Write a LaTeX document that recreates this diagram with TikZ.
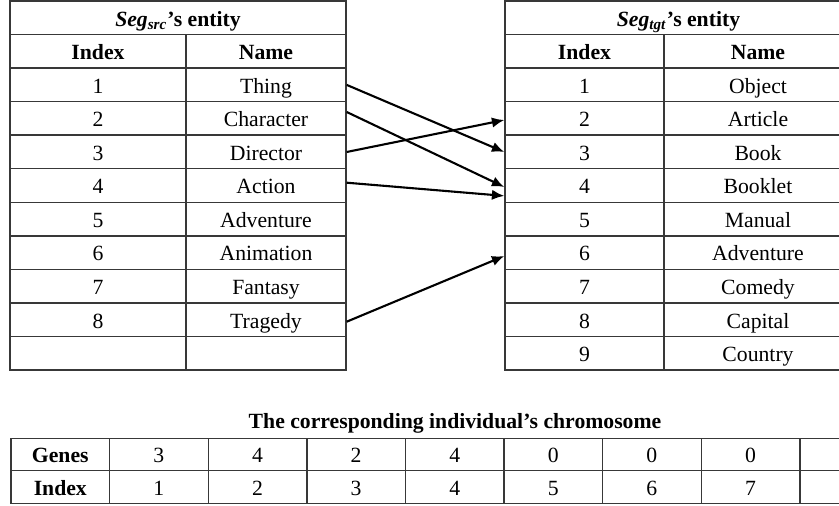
\documentclass[tikz,border=0pt]{standalone}
\usepackage{fontspec}
\setmainfont{Liberation Serif}
\usepackage{tikz}
\usetikzlibrary{arrows.meta}
\definecolor{rulegray}{HTML}{383838}
\tikzstyle{cell} = [draw=rulegray, line width=0.7pt, inner sep=0pt,
    minimum height=16.775pt, text height=9.2pt, text depth=0.8pt,
    font=\fontsize{10.85pt}{13pt}\selectfont]
\tikzstyle{srcidx} = [cell, minimum width=88pt]
\tikzstyle{srcname} = [cell, minimum width=80pt]
\tikzstyle{tgtidx} = [cell, minimum width=79.5pt]
\tikzstyle{tgtname} = [cell, minimum width=94pt]
\tikzstyle{gene} = [cell, minimum width=49.3pt, minimum height=16.25pt]
\tikzstyle{map} = [->, line width=1.05pt, black]
\tikzset{>={Latex[length=6.2pt,width=5.2pt]}}

\begin{document}
\begin{tikzpicture}
\begin{scope}[x=0.5pt,y=-0.5pt]
    \useasboundingbox (0,0) rectangle (839,506);
    \clip (0,0) rectangle (839,506);
    %source table
    \node[cell,minimum width=168pt] (st) at (178,17.8) {\textbf{\textit{Seg}\textsubscript{\textit{src}}’s entity}};
    \node[srcidx] (sih) at (98,51.3) {\textbf{Index}};
    \node[srcname] (snh) at (266,51.3) {\textbf{Name}};
    \node[srcidx] (si1) at (98,84.9) {1};
    \node[srcname] (sn1) at (266,84.9) {Thing};
    \node[srcidx] (si2) at (98,118.4) {2};
    \node[srcname] (sn2) at (266,118.4) {Character};
    \node[srcidx] (si3) at (98,152.0) {3};
    \node[srcname] (sn3) at (266,152.0) {Director};
    \node[srcidx] (si4) at (98,185.5) {4};
    \node[srcname] (sn4) at (266,185.5) {Action};
    \node[srcidx] (si5) at (98,219.1) {5};
    \node[srcname] (sn5) at (266,219.1) {Adventure};
    \node[srcidx] (si6) at (98,252.6) {6};
    \node[srcname] (sn6) at (266,252.6) {Animation};
    \node[srcidx] (si7) at (98,286.2) {7};
    \node[srcname] (sn7) at (266,286.2) {Fantasy};
    \node[srcidx] (si8) at (98,319.7) {8};
    \node[srcname] (sn8) at (266,319.7) {Tragedy};
    \node[srcidx] (si9) at (98,353.3) {};
    \node[srcname] (sn9) at (266,353.3) {};
    %target table
    \node[cell,minimum width=173.5pt] (tt) at (678.5,17.8) {\textbf{\textit{Seg}\textsubscript{\textit{tgt}}’s entity}};
    \node[tgtidx] (tih) at (584.5,51.3) {\textbf{Index}};
    \node[tgtname] (tnh) at (758,51.3) {\textbf{Name}};
    \node[tgtidx] (ti1) at (584.5,84.9) {1};
    \node[tgtname] (tn1) at (758,84.9) {Object};
    \node[tgtidx] (ti2) at (584.5,118.4) {2};
    \node[tgtname] (tn2) at (758,118.4) {Article};
    \node[tgtidx] (ti3) at (584.5,152.0) {3};
    \node[tgtname] (tn3) at (758,152.0) {Book};
    \node[tgtidx] (ti4) at (584.5,185.5) {4};
    \node[tgtname] (tn4) at (758,185.5) {Booklet};
    \node[tgtidx] (ti5) at (584.5,219.1) {5};
    \node[tgtname] (tn5) at (758,219.1) {Manual};
    \node[tgtidx] (ti6) at (584.5,252.6) {6};
    \node[tgtname] (tn6) at (758,252.6) {Adventure};
    \node[tgtidx] (ti7) at (584.5,286.2) {7};
    \node[tgtname] (tn7) at (758,286.2) {Comedy};
    \node[tgtidx] (ti8) at (584.5,319.7) {8};
    \node[tgtname] (tn8) at (758,319.7) {Capital};
    \node[tgtidx] (ti9) at (584.5,353.3) {9};
    \node[tgtname] (tn9) at (758,353.3) {Country};
    %mapping
    \draw[map] (sn1.east) to (ti3.west);
    \draw[map] ([yshift=3.2pt]sn2.east) to ([yshift=-0.75pt]ti4.west);
    \draw[map] (sn3.east) to ([yshift=-0.8pt]ti2.west);
    \draw[map] ([yshift=1.4pt]sn4.east) to ([yshift=-5.2pt]ti4.west);
    \draw[map] ([yshift=-1pt]sn8.east) to ([yshift=-1.7pt]ti6.west);
    %chromosome
    \node[font=\fontsize{10.85pt}{13pt}\selectfont,anchor=base] (ct) at (455,429) {\textbf{The corresponding individual’s chromosome}};
    \node[gene] (gh) at (60.3,454.5) {\textbf{Genes}};
    \node[gene] (g1) at (158.9,454.5) {3};
    \node[gene] (g2) at (257.5,454.5) {4};
    \node[gene] (g3) at (356.1,454.5) {2};
    \node[gene] (g4) at (454.7,454.5) {4};
    \node[gene] (g5) at (553.3,454.5) {0};
    \node[gene] (g6) at (651.9,454.5) {0};
    \node[gene] (g7) at (750.5,454.5) {0};
    \node[gene] (g8) at (849.1,454.5) {};
    \node[gene] (xh) at (60.3,487) {\textbf{Index}};
    \node[gene] (x1) at (158.9,487) {1};
    \node[gene] (x2) at (257.5,487) {2};
    \node[gene] (x3) at (356.1,487) {3};
    \node[gene] (x4) at (454.7,487) {4};
    \node[gene] (x5) at (553.3,487) {5};
    \node[gene] (x6) at (651.9,487) {6};
    \node[gene] (x7) at (750.5,487) {7};
    \node[gene] (x8) at (849.1,487) {};
\end{scope}
\end{tikzpicture}
\end{document}
